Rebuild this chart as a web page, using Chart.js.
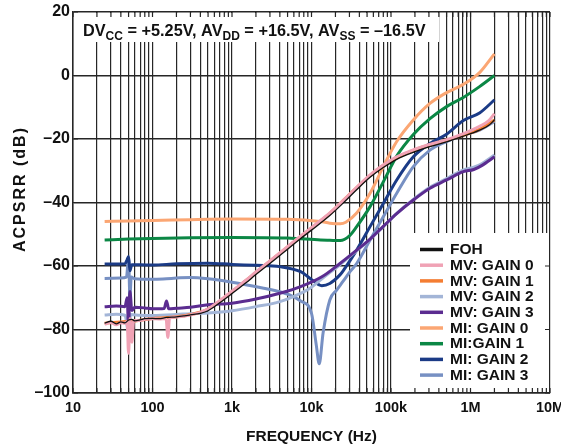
<!DOCTYPE html>
<html>
<head>
<meta charset="utf-8">
<script src="https://cdn.jsdelivr.net/npm/chart.js@4.4.0/dist/chart.umd.min.js"></script>
<style>
  html, body { margin: 0; padding: 0; background: #fff; }
  canvas { display: block; }
</style>
</head>
<body>
<canvas id="c" width="561" height="446"></canvas>
<script>
// ---------- DATA (frequency in Hz, ACPSRR in dB) ----------
const seriesLabels = ['FOH', 'MV: GAIN 0', 'MV: GAIN 1', 'MV: GAIN 2', 'MV: GAIN 3',
                      'MI: GAIN 0', 'MI:GAIN 1', 'MI: GAIN 2', 'MI: GAIN 3'];

const foh = [[25,-78],[30,-77.4],[35,-78.2],[40,-77.6],[45,-77.9],[50,-77],[55,-76.8],[60,-77.3],
  [70,-77],[80,-76.6],[100,-76.5],[120,-76.6],[150,-76.2],[200,-76],[250,-75.7],[300,-75.4],
  [400,-74.9],[500,-74.1],[700,-71.6],[1000,-68.7],[1500,-65.3],[2000,-62.7],[3000,-59.2],[5000,-54.7],
  [7000,-51.7],[10000,-48.7],[17000,-44.1],[25000,-40.2],[37000,-36],[55000,-32],[80000,-29],
  [118000,-26.4],[190000,-24.2],[300000,-22.5],[500000,-20.9],[800000,-19.2],[1300000,-17.2],
  [1700000,-15.7],[2000000,-14]];

const mvGain0 = [[25,-78.3],[30,-77.8],[35,-78.5],[40,-77.9],[45,-78],[48,-77.5],[50,-87.5],[52,-76.5],
  [55,-84],[58,-77.2],[70,-77.2],[80,-76.8],[100,-76.6],[120,-76.7],[148,-76.5],[156,-82.5],[164,-76.4],
  [200,-76.1],[250,-75.8],[300,-75.4],[400,-74.6],[500,-73.5],[700,-70.9],[1000,-67.9],[1500,-64.5],
  [2000,-61.9],[3000,-58.4],[5000,-53.9],[7000,-50.9],[10000,-47.9],[17000,-43.3],[25000,-39.4],
  [37000,-35.2],[55000,-31.2],[80000,-28.2],[118000,-25.6],[190000,-23.4],[300000,-21.8],
  [500000,-20.2],[800000,-18.4],[1300000,-16],[1700000,-14.2],[2000000,-12]];

const mvGain1 = [[25,-78],[40,-77.6],[60,-77.3],[100,-76.5],[200,-76],[300,-75.3],[500,-73.6],
  [1000,-68],[2000,-62],[5000,-54],[10000,-48],[17000,-43.4],[37000,-35.3],[80000,-28.3],
  [190000,-23.6],[500000,-20.4],[1300000,-17],[2000000,-14]];

const mvGain2 = [[25,-75.4],[35,-75.2],[45,-75.5],[50,-81],[53,-75.3],[70,-75.5],[100,-75.6],
  [200,-75.3],[300,-75],[500,-74.8],[1000,-74.1],[2000,-72.8],[4000,-71.2],[7300,-68.6],
  [9600,-67],[13500,-64],[22800,-59.6],[37000,-55.2],[54500,-51.6],[80000,-47.6],[118000,-43.4],
  [191000,-39],[309000,-35.2],[500000,-32.5],[812000,-29.7],[1100000,-28.9],[1400000,-27.7],[2000000,-25]];

const mvGain3 = [[25,-72.8],[35,-72.6],[45,-72.8],[48,-70],[50,-79.5],[52,-68],[55,-74],[60,-73],
  [80,-73.2],[100,-73.5],[140,-73.4],[150,-71],[160,-73.5],[200,-73.3],[300,-73],[500,-72.2],
  [1000,-71.7],[2000,-70.4],[4000,-68.6],[7300,-66.5],[13500,-63.4],[22800,-59.2],[37000,-55],
  [54500,-51.5],[80000,-47.5],[118000,-43.5],[191000,-39.2],[309000,-35.5],[500000,-32.9],
  [812000,-30.3],[1100000,-29.6],[1400000,-28.3],[2000000,-25.6]];

const miGain0 = [[25,-46],[50,-45.8],[100,-45.7],[300,-45.4],[1000,-45.2],[5000,-45.3],[13000,-46],
  [17000,-46.5],[23000,-46.7],[27000,-46.2],[37000,-43.3],[54500,-37.1],[80000,-28.7],[118000,-20.8],
  [191000,-14],[309000,-8.8],[500000,-5.4],[812000,-2.8],[1300000,0.9],[2000000,6.8]];

const miGain1 = [[25,-51.8],[50,-51.5],[100,-51.3],[300,-51.1],[1000,-51],[5000,-51.2],[13000,-51.8],
  [17000,-51.9],[23000,-52],[30000,-50.5],[37000,-47.6],[54500,-41.3],[80000,-33.5],[118000,-25.4],
  [191000,-18.6],[309000,-13.6],[500000,-9.8],[812000,-6.9],[1300000,-3.5],[2000000,0]];

const miGain2 = [[25,-59.4],[45,-59.3],[48,-58],[50,-57],[52,-61.5],[55,-59.6],[70,-59.6],[100,-59.7],
  [200,-59.3],[500,-59.1],[1000,-59.5],[2000,-59.8],[4000,-60.2],[7300,-61.8],[9600,-63.9],
  [13500,-66.2],[17000,-65.5],[22800,-62.8],[25000,-61.5],[37000,-55],[54500,-47.6],[80000,-40.3],
  [118000,-32.9],[191000,-25.6],[309000,-21.4],[500000,-18.5],[812000,-14.2],[1300000,-11.8],[2000000,-7.7]];

const miGain3 = [[25,-63.9],[40,-63.8],[47,-63.5],[50,-57.5],[52,-70],[54,-63.5],[60,-64],[100,-64.2],
  [150,-64],[200,-63.8],[300,-63.6],[500,-64],[1000,-65.1],[2500,-67],[4000,-68.1],[5300,-69.1],
  [7300,-71],[10000,-74.9],[11500,-85],[12500,-90.8],[14000,-81],[17000,-70.7],[20700,-67.6],
  [25000,-64.8],[30500,-61.8],[37000,-59.2],[54500,-51.8],[80000,-44.5],[118000,-37.1],
  [191000,-28.7],[309000,-23.5],[500000,-20.8],[812000,-18.7],[1300000,-17.2],[2000000,-14.5]];

const seriesData = [foh, mvGain0, mvGain1, mvGain2, mvGain3, miGain0, miGain1, miGain2, miGain3];
const seriesColors = ['#111111', '#f0a2b5', '#f47d32', '#a3b5d7', '#5b2c90',
                      '#fba673', '#0b8745', '#1b3b86', '#7790c3'];
const seriesWidths = [1.3, 3, 3, 3, 3, 3, 3, 3, 3];
const seriesOrder = [0, 1, 2, 4, 3, 5, 6, 7, 8];

const xDecades = [10, 100, 1000, 10000, 100000, 1000000, 10000000];
const xTickLabels = ['10', '100', '1k', '10k', '100k', '1M', '10M'];
const yTickValues = [-100, -80, -60, -40, -20, 0, 20];
const yTickLabels = ['\u2013100', '\u201380', '\u201360', '\u201340', '\u201320', '0', '20'];
const yAxisTitle = 'ACPSRR (dB)';

const titleParts = [['DV', false], ['CC', true], [' = +5.25V, AV', false], ['DD', true],
                    [' = +16.5V, AV', false], ['SS', true], [' = \u201316.5V', false]];

// grid positions: 1..9 times each decade
const gridFreqs = [];
for (let d = 10; d < 1e7; d *= 10) for (let m = 1; m <= 9; m++) gridFreqs.push(d * m);
gridFreqs.push(1e7);

const FONT = '"Liberation Sans", Arial, Helvetica, sans-serif';
const GRID = '#262626';

const overlay = {
  id: 'overlay',
  beforeDatasetsDraw(chart) {
    const {ctx, chartArea: a, scales: {x, y}} = chart;
    ctx.save();
    ctx.fillStyle = '#ffffff';
    // annotation box (top) and legend box (bottom right)
    ctx.fillRect(a.left + 1, a.top + 1, 438 - a.left, 41 - a.top);
    ctx.fillRect(410, 233, a.right - 1 - 410, a.bottom - 1 - 233);
    // inward tick marks on all four edges
    ctx.strokeStyle = GRID;
    ctx.lineWidth = 1.2;
    ctx.beginPath();
    gridFreqs.forEach(f => {
      const px = x.getPixelForValue(f);
      ctx.moveTo(px, a.top); ctx.lineTo(px, a.top + 5);
      ctx.moveTo(px, a.bottom); ctx.lineTo(px, a.bottom - 5);
    });
    yTickValues.forEach(v => {
      const py = y.getPixelForValue(v);
      ctx.moveTo(a.left, py); ctx.lineTo(a.left + 5, py);
      ctx.moveTo(a.right, py); ctx.lineTo(a.right - 5, py);
    });
    ctx.stroke();
    ctx.restore();
  },
  afterDatasetsDraw(chart) {
    const {ctx} = chart;
    ctx.save();
    // annotation text with subscripts
    let cx = 83;
    ctx.fillStyle = '#111';
    ctx.textBaseline = 'alphabetic';
    titleParts.forEach(([t, sub]) => {
      ctx.font = sub ? `bold 12px ${FONT}` : `bold 16.3px ${FONT}`;
      ctx.fillText(t, cx, sub ? 39.5 : 35.5);
      cx += ctx.measureText(t).width;
    });
    // legend
    ctx.font = `bold 15.5px ${FONT}`;
    ctx.textBaseline = 'middle';
    chart.data.datasets.forEach((ds, i) => {
      const yy = 249.5 + i * 15.7;
      ctx.strokeStyle = ds.borderColor;
      ctx.lineWidth = 3.5;
      ctx.beginPath();
      ctx.moveTo(420, yy); ctx.lineTo(443, yy);
      ctx.stroke();
      ctx.fillStyle = '#111';
      ctx.fillText(ds.label, 450, yy + 0.5);
    });
    // y axis title (rotated)
    ctx.translate(21, 189);
    ctx.rotate(-Math.PI / 2);
    ctx.font = `bold 16px ${FONT}`;
    if ('letterSpacing' in ctx) ctx.letterSpacing = '2px';
    ctx.textAlign = 'center';
    ctx.textBaseline = 'middle';
    ctx.fillText(yAxisTitle, 0, 0);
    ctx.restore();
  }
};

new Chart(document.getElementById('c'), {
  type: 'line',
  data: {
    datasets: seriesLabels.map((label, i) => ({
      label,
      data: seriesData[i].map(([f, v]) => ({x: f, y: v})),
      borderColor: seriesColors[i],
      backgroundColor: seriesColors[i],
      borderWidth: seriesWidths[i],
      pointRadius: 0,
      fill: false,
      cubicInterpolationMode: 'monotone',
      order: seriesOrder[i]
    }))
  },
  options: {
    responsive: false,
    animation: false,
    layout: {padding: {left: 0, right: 11, top: 12, bottom: 0}},
    plugins: {legend: {display: false}, tooltip: {enabled: false}, title: {display: false}},
    scales: {
      x: {
        type: 'logarithmic',
        min: 10, max: 1e7,
        afterBuildTicks: s => { s.ticks = gridFreqs.map(v => ({value: v})); },
        afterFit: s => { s.height = 53; s.paddingLeft = 0; s.paddingRight = 0; },
        grid: {color: GRID, lineWidth: 1.2, drawTicks: false},
        border: {color: GRID, width: 1.5},
        ticks: {
          autoSkip: false, maxRotation: 0, minRotation: 0, padding: 6, color: '#111',
          font: {family: FONT, size: 14.5, weight: 'bold'},
          callback: (v) => { const k = xDecades.indexOf(v); return k >= 0 ? xTickLabels[k] : ''; }
        },
        title: {display: true, text: 'FREQUENCY (Hz)', color: '#111',
                font: {family: FONT, size: 15.5, weight: 'bold'}, padding: {top: 0, bottom: 0}}
      },
      y: {
        min: -100, max: 20,
        afterBuildTicks: s => { s.ticks = yTickValues.map(v => ({value: v})); },
        afterFit: s => { s.width = 73; s.paddingTop = 0; s.paddingBottom = 0; },
        grid: {color: GRID, lineWidth: 1.5, drawTicks: false},
        border: {color: GRID, width: 1.5},
        ticks: {
          padding: 3, color: '#111',
          font: {family: FONT, size: 16, weight: 'bold'},
          callback: (v) => { const k = yTickValues.indexOf(v); return k >= 0 ? yTickLabels[k] : ''; }
        },
        title: {display: false}
      }
    }
  },
  plugins: [overlay]
});
</script>
</body>
</html>
